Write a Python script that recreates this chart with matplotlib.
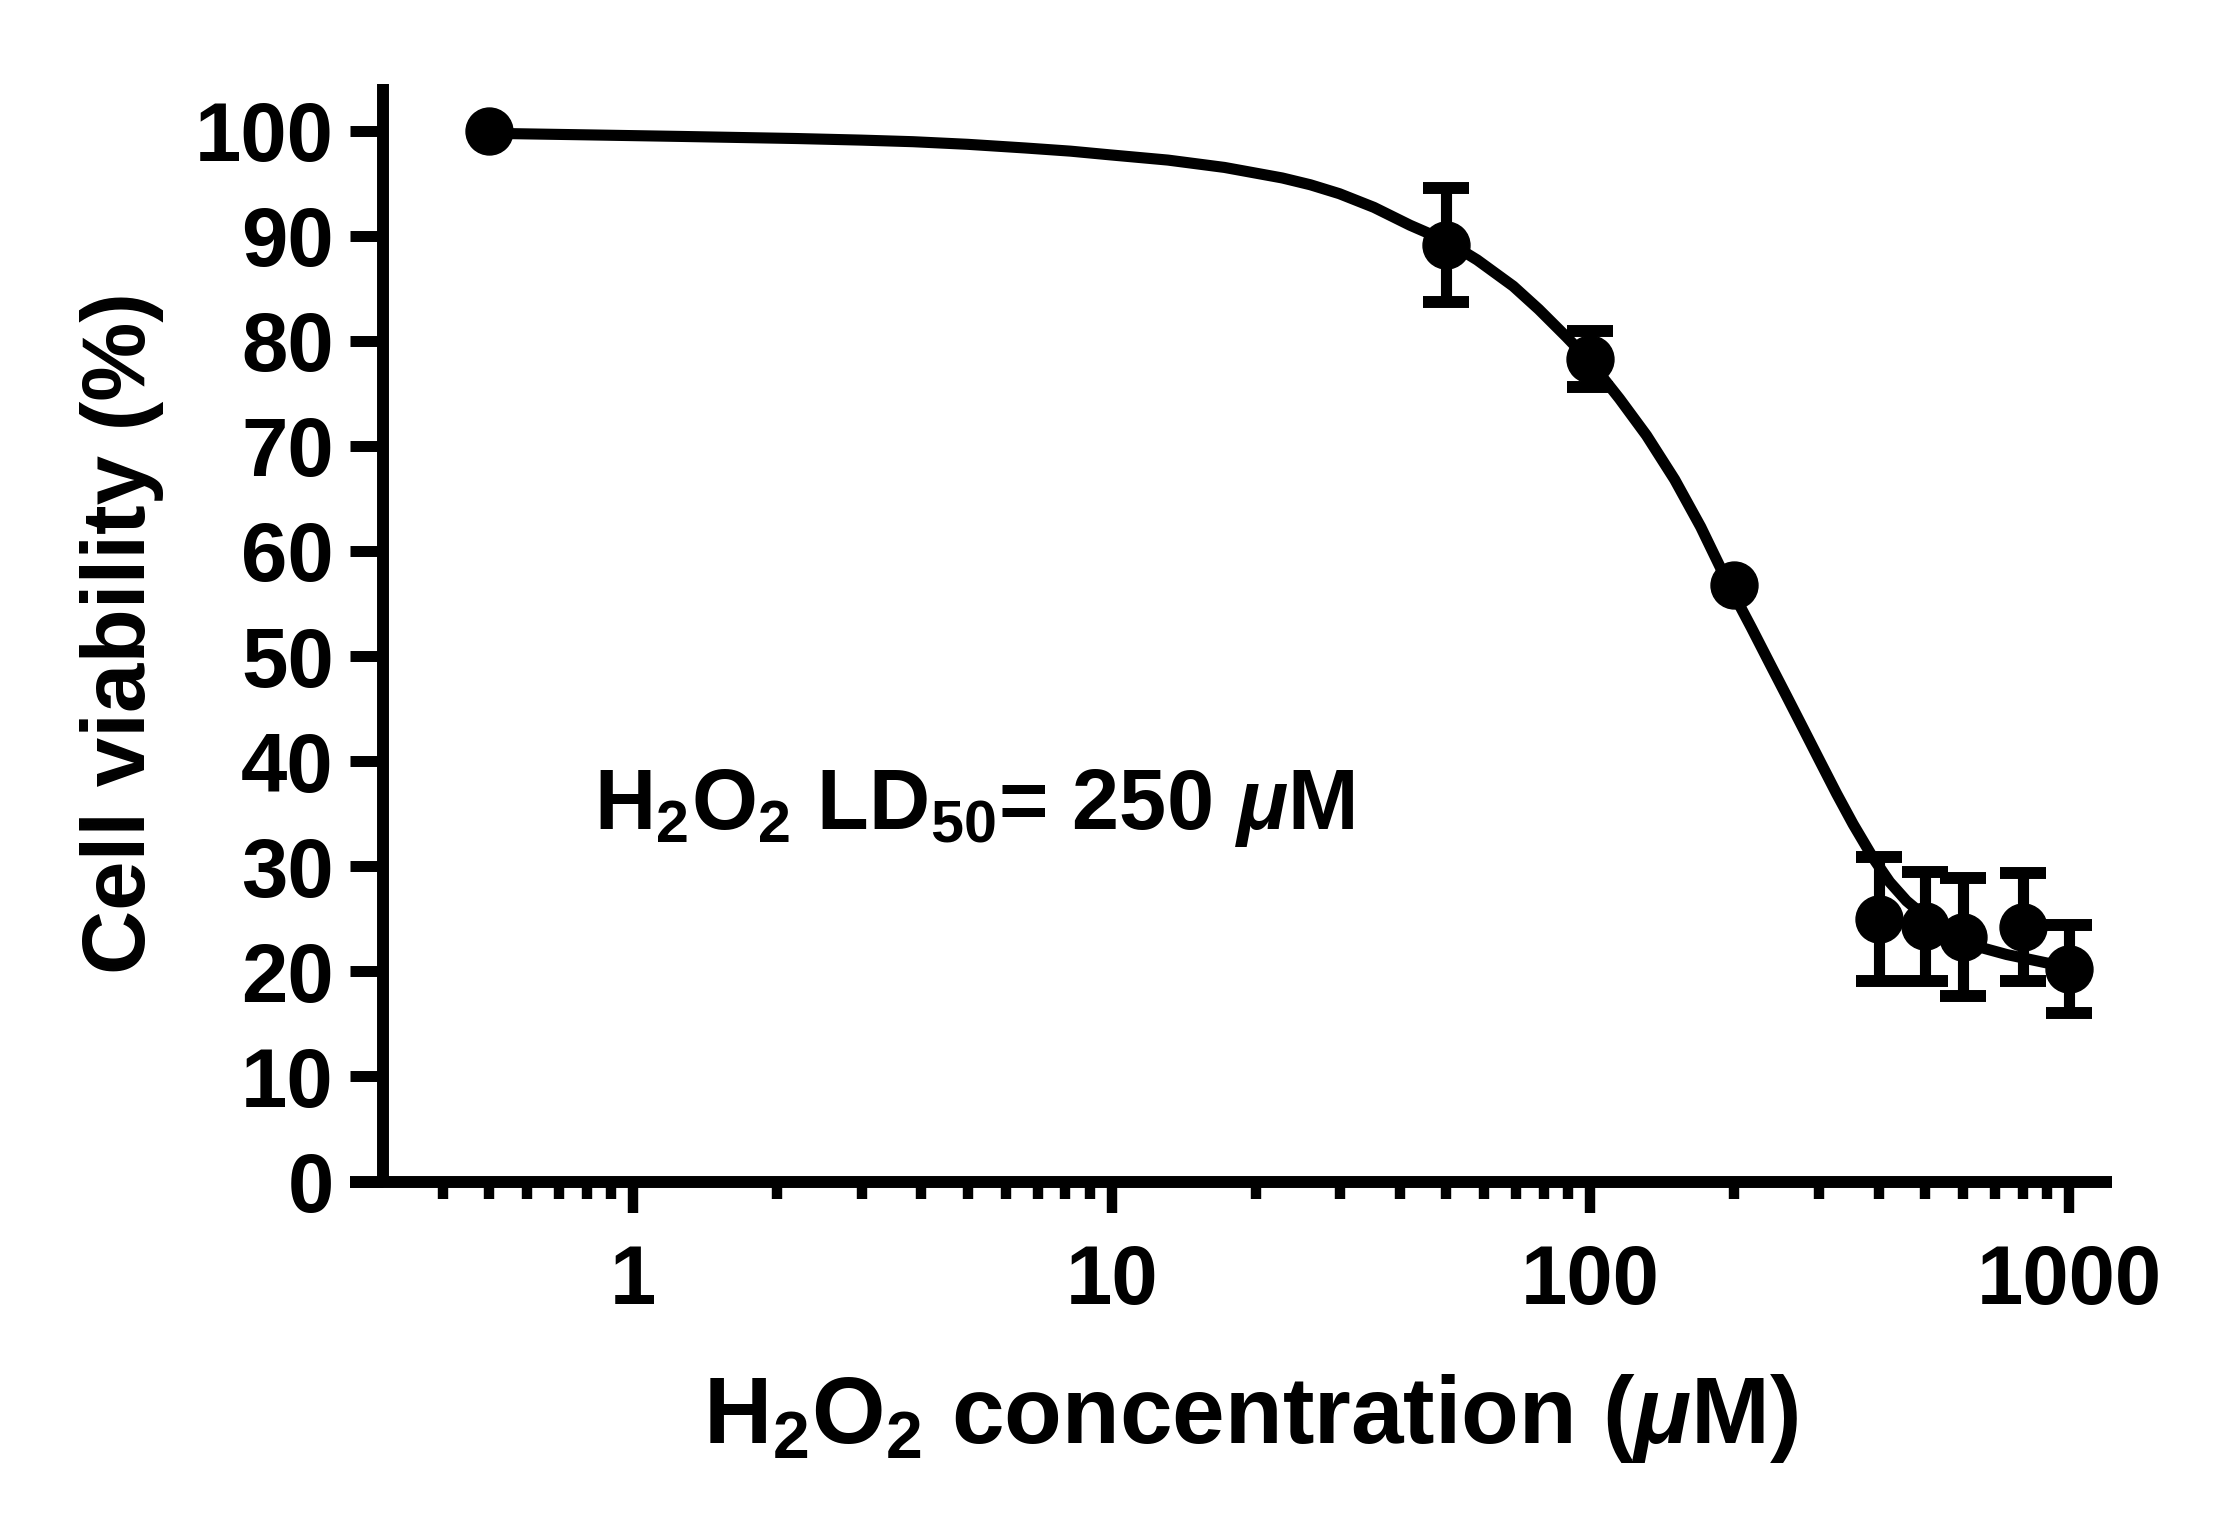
import numpy as np
import matplotlib
matplotlib.use("Agg")
import matplotlib.pyplot as plt
from matplotlib.ticker import FixedLocator, FixedFormatter, NullFormatter

# 数据 (uM, %)
conc = [0.5, 50, 100, 200, 400, 500, 600, 800, 1000]
viability = [100, 89.1, 78.3, 56.8, 25.0, 24.3, 23.3, 24.25, 20.2]
sd = [0, 5.4, 2.65, 0, 5.9, 5.2, 5.6, 5.15, 4.2]

# 拟合曲线
fit_x = [0.5, 0.8, 1.26, 2.2, 3.0, 3.84, 5.0, 6.6, 8.2, 9.9, 13.1, 17.2, 22.7, 26, 29.9,
         35.3, 42, 50, 58, 69, 78, 89, 100, 115, 131, 150, 170, 194.5, 217, 237, 257,
         278.5, 301.7, 327, 354, 389.6, 422, 457.7, 504, 564, 651, 741, 816, 898, 1000]
fit_y = [99.75, 99.6, 99.45, 99.25, 99.1, 98.95, 98.7, 98.35, 98.05, 97.7, 97.2, 96.5,
         95.5, 94.85, 94.0, 92.7, 91.0, 89.5, 87.7, 85.2, 83.0, 80.4, 78.0, 74.5, 71.0,
         66.8, 62.3, 56.8, 52.7, 49.3, 46.2, 43.1, 40.0, 36.9, 34.0, 30.8, 28.5, 26.7,
         25.1, 23.7, 22.3, 21.6, 21.2, 20.8, 20.45]

x_major = [1, 10, 100, 1000]
x_major_labels = ["1", "10", "100", "1000"]
x_minor = [0.4, 0.5, 0.6, 0.7, 0.8, 0.9] + [i for i in range(2, 10)] + \
          [i * 10 for i in range(2, 10)] + [i * 100 for i in range(2, 10)]
y_ticks = list(range(0, 101, 10))

plt.rcParams['font.family'] = ['Liberation Sans', 'DejaVu Sans']
plt.rcParams['font.weight'] = 'bold'
plt.rcParams['mathtext.fontset'] = 'custom'
plt.rcParams['mathtext.it'] = 'Liberation Sans:italic:bold'
plt.rcParams['mathtext.rm'] = 'Liberation Sans:bold'
plt.rcParams['mathtext.default'] = 'regular'

fig = plt.figure(figsize=(22.16, 15.24), dpi=100)
ax = fig.add_axes([350 / 2216, 1 - 1181.5 / 1524, (2112 - 350) / 2216, (1181.5 - 84) / 1524])

ax.set_xscale('log')
ax.set_xlim(0.256, 1230)
ax.set_ylim(0, 104.44)

# 曲线
ax.plot(fit_x, fit_y, color='black', lw=8, solid_capstyle='butt',
        solid_joinstyle='round', zorder=2)

# 误差棒
x = np.array(conc)
y = np.array(viability)
e = np.array(sd)
m = e > 0
ax.errorbar(x[m], y[m], yerr=e[m], fmt='none', ecolor='black', elinewidth=8,
            capsize=16.5, capthick=8.6, zorder=3)
ax.plot(x, y, 'o', color='black', markersize=33.8, zorder=4)

# 坐标轴
for s in ['top', 'right']:
    ax.spines[s].set_visible(False)
ax.spines['left'].set_position(('data', 0.3))
ax.spines['left'].set_linewidth(8.6)
ax.spines['bottom'].set_linewidth(8.6)
ax.spines['left'].set_capstyle('butt')
ax.spines['bottom'].set_capstyle('butt')

ax.xaxis.set_major_locator(FixedLocator(x_major))
ax.xaxis.set_major_formatter(FixedFormatter(x_major_labels))
ax.xaxis.set_minor_locator(FixedLocator(x_minor))
ax.xaxis.set_minor_formatter(NullFormatter())
ax.set_yticks(y_ticks)

ax.tick_params(axis='y', which='major', length=23.8, width=7.9, pad=11.7, labelsize=60)
ax.tick_params(axis='x', which='major', length=22.3, width=7.5, pad=22, labelsize=60)
ax.tick_params(axis='x', which='minor', length=12, width=7.5)

ax.text(0.83, 33.5, r'H$_\mathregular{2}$O$_\mathregular{2}$ LD$_\mathregular{50}$= 250 $\mathit{\mu}$M',
        fontsize=61, fontweight='bold', va='baseline', ha='left')

fig.text(1250.8 / 2216, (1524 - 1443.3) / 1524,
         r'H$_\mathregular{2}$O$_\mathregular{2}$ concentration ($\mathit{\mu}$M)',
         fontsize=68, fontweight='bold', ha='center', va='baseline')
fig.text(145 / 2216, (1524 - 633) / 1524, 'Cell viability (%)', fontsize=64,
         fontweight='bold', rotation=90, rotation_mode='anchor',
         ha='center', va='baseline')

fig.savefig('out.png', dpi=100)
